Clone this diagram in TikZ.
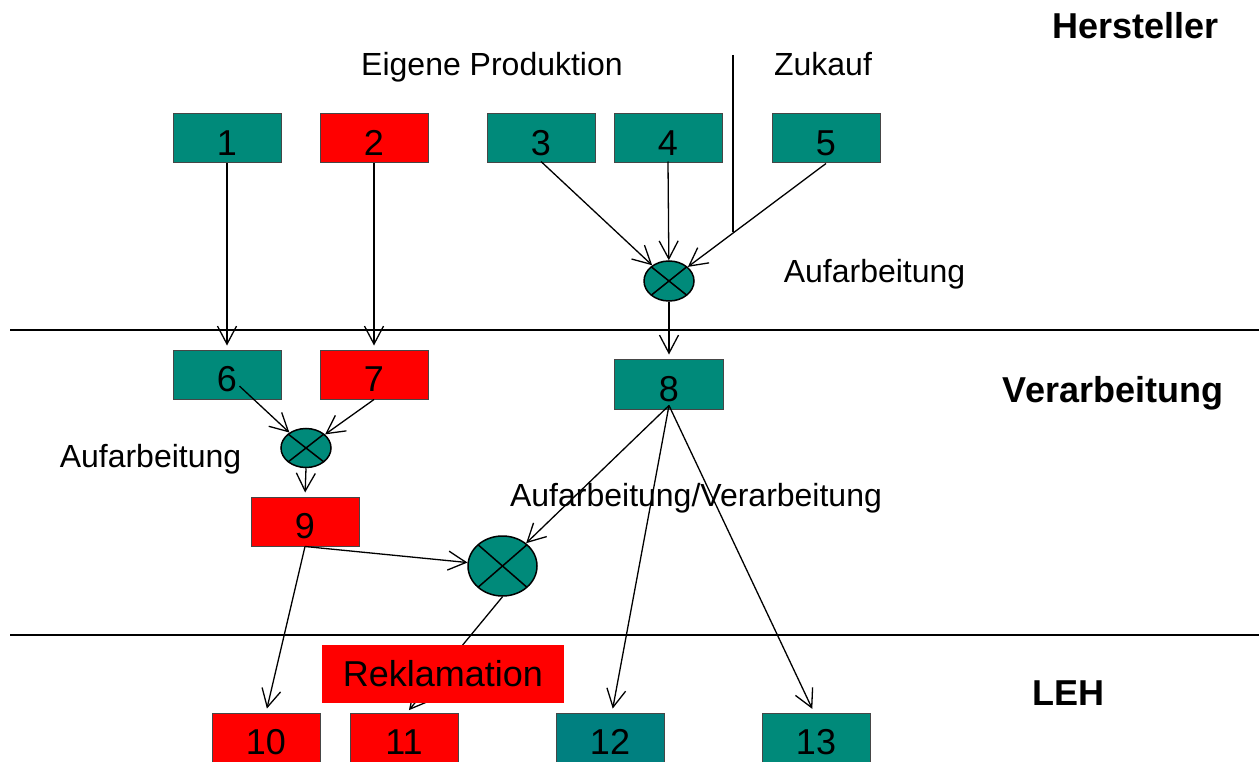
\documentclass[tikz,border=0pt]{standalone}
\usepackage{fontspec}
\setmainfont{Liberation Sans}
\usetikzlibrary{arrows.meta,shapes.geometric}
\definecolor{tealA}{RGB}{0,138,122}
\definecolor{tealB}{RGB}{0,128,128}
\definecolor{boxred}{RGB}{255,0,0}
\definecolor{boxline}{RGB}{70,70,70}
\begin{document}
\begin{tikzpicture}[x=1pt,y=-1pt,
 box/.style={draw=boxline,line width=1pt,minimum width=108pt,minimum height=49pt,inner sep=0pt,
   font=\fontsize{36}{40}\selectfont,text height=34pt,text depth=0pt},
 tbox/.style={box,fill=tealA},
 rbox/.style={box,fill=boxred},
 mix/.style={ellipse,draw=black,line width=1.5pt,fill=tealA,inner sep=0pt,
   path picture={\draw[line width=1.5pt] (path picture bounding box.north west)--(path picture bounding box.south east)
     (path picture bounding box.north east)--(path picture bounding box.south west);}},
 arr/.style={line width=1.3pt,-{Straight Barb[length=18pt,width=19pt]}},
 lbl/.style={font=\fontsize{32}{36}\selectfont,anchor=base,inner sep=0pt},
 hdr/.style={font=\fontsize{36}{40}\selectfont\bfseries,anchor=base,inner sep=0pt},
 sepline/.style={line width=1.5pt}]
\useasboundingbox (0,0) rectangle (1259,762);
\fill[white] (0,0) rectangle (1259,762);

% separators
\coordinate (s1a) at (10,330); \coordinate (s1b) at (1259,330);
\coordinate (s2a) at (10,635); \coordinate (s2b) at (1259,635);
\coordinate (va) at (733,55); \coordinate (vb) at (733,232);
\draw[sepline] (s1a) -- (s1b);
\draw[sepline] (s2a) -- (s2b);
\draw[sepline] (va) -- (vb);

% labels
\node[hdr] (hHer) at (1135.5,38.5) {Hersteller};
\node[hdr] (hVer) at (1113,402) {Verarbeitung};
\node[hdr] (hLEH) at (1068.5,705) {LEH};
\node[lbl] (lEig) at (492,75.5) {Eigene Produktion};
\node[lbl] (lZuk) at (823,75.5) {Zukauf};
\node[lbl] (lAuf1) at (874.5,282.5) {Aufarbeitung};
\node[lbl] (lAuf2) at (150.5,467) {Aufarbeitung};
\node[lbl] (lAufV) at (696,506) {Aufarbeitung/Verarbeitung};

% boxes
\node[tbox] (b1) at (227,138.5) {1};
\node[rbox] (b2) at (374,138.5) {2};
\node[tbox] (b3) at (541,138.5) {3};
\node[tbox] (b4) at (668,138.5) {4};
\node[tbox] (b5) at (826,138.5) {5};
\node[tbox] (b6) at (227,374.5) {6};
\node[rbox] (b7) at (374,374.5) {7};
\node[tbox,minimum width=109pt,minimum height=50pt] (b8) at (669,384) {8};
\node[rbox] (b9) at (305,521.5) {9};
\node[rbox] (b10) at (266,737.5) {10};
\node[rbox] (b11) at (404,737.5) {11};
\node[box,fill=tealB] (b12) at (610,737.5) {12};
\node[tbox] (b13) at (816,737.5) {13};

% mixing nodes
\node[mix,minimum width=50pt,minimum height=40pt] (c1) at (669,281) {};
\node[mix,minimum width=50pt,minimum height=39pt] (c2) at (306,448) {};
\node[mix,minimum width=69pt,minimum height=60pt] (c3) at (502.5,566) {};

% connectors
\draw[arr,shorten >=4pt] (b1.south) -- (b6.north);
\draw[arr,shorten >=4pt] (b2.south) -- (b6.north -| b2.south);
\draw[arr] ([yshift=2pt]b3.south) -- (c1);
\draw[arr] ([yshift=2pt]b4.south) -- (c1);
\draw[arr] (b5.south) -- (c1);
\draw[arr,shorten >=4pt] (c1.south) -- (b8.north);
\draw[arr,shorten <=17pt] (b6.center) -- (c2);
\draw[arr] (b7.south) -- (c2);
\draw[arr,shorten >=4pt] (c2.south) -- (b9.north);
\draw[arr] (b9.south) -- (c3);
\draw[arr] ([yshift=4pt]b8.south) -- (c3);
\draw[arr,shorten >=4pt] (b9.south) -- (b10.north);
\draw[arr,shorten >=4pt] ([yshift=4pt]b8.south) -- ([xshift=2pt]b12.north);
\draw[arr,shorten >=4pt] ([yshift=4pt]b8.south) -- ([xshift=-2pt]b13.north);
\draw[arr,shorten >=3pt] (c3.south) -- ([xshift=3pt]b11.north);

% Reklamation
\node[fill=boxred,minimum width=242pt,minimum height=58pt,inner sep=0pt,
  font=\fontsize{36}{40}\selectfont] (rek) at (443,674) {Reklamation};
\end{tikzpicture}
\end{document}
